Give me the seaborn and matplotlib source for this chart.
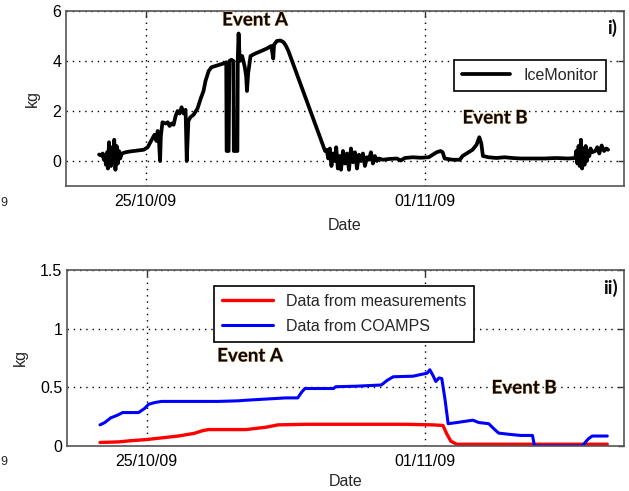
import numpy as np
import pandas as pd
import matplotlib
matplotlib.use("Agg")
import matplotlib.pyplot as plt
import matplotlib.dates as mdates
import matplotlib.patheffects as pe
import seaborn as sns

# ---------------- data (days since 23/10/2009 00:00) ----------------
start = pd.Timestamp("2009-10-23")

ice_days = [0.83, 0.88, 0.92, 0.95, 0.98, 1.0, 1.03, 1.05, 1.08, 1.1, 1.13, 1.16, 1.19, 1.21,
            1.24, 1.27, 1.3, 1.33, 1.36, 1.4, 1.5, 1.6, 1.7, 1.8, 1.95, 2.05, 2.15, 2.22, 2.27,
            2.3, 2.33, 2.36, 2.38, 2.42, 2.5, 2.55, 2.6, 2.65, 2.7, 2.75, 2.8, 2.85, 2.9, 2.95,
            3.0, 3.03, 3.07, 3.12, 3.2, 3.3, 3.38, 3.45, 3.5, 3.58, 3.65, 3.75, 3.85, 3.95, 4.02,
            4.03, 4.08, 4.1, 4.15, 4.2, 4.21, 4.3, 4.31, 4.33, 4.36, 4.42, 4.48, 4.52, 4.54, 4.57,
            4.63, 4.75, 4.9, 5.04, 5.15, 5.2, 5.22, 5.29, 5.38, 5.46, 5.52, 5.58, 6.5,
            6.54, 6.58, 6.62, 6.66, 6.7, 6.74, 6.78, 6.82, 6.86, 6.9, 6.95, 7.0, 7.05, 7.1, 7.15,
            7.2, 7.25, 7.3, 7.35, 7.4, 7.45, 7.5, 7.55, 7.6, 7.65, 7.7, 7.75, 7.8, 7.85, 7.95,
            8.1, 8.3, 8.4, 8.5, 8.7, 8.9, 9.1, 9.2, 9.3, 9.4, 9.45, 9.5, 9.7, 9.88, 9.95, 10.05,
            10.2, 10.3, 10.37, 10.42, 10.46, 10.6, 10.8, 11.0, 11.2, 11.4, 11.7, 12.0, 12.3, 12.6,
            12.78, 12.8, 12.83, 12.86, 12.89, 12.92, 12.95, 12.98, 13.01, 13.04, 13.07, 13.1,
            13.13, 13.16, 13.2, 13.28, 13.33, 13.38, 13.44, 13.5, 13.56, 13.6]
ice_kg = [0.26, 0.22, 0.30, 0.05, 0.25, -0.15, 0.35, -0.3, 0.75, 0.1, -0.2, 0.55, -0.05, 0.85,
          -0.35, 0.6, -0.1, 0.4, 0.1, 0.3, 0.35, 0.38, 0.4, 0.42, 0.45, 0.55, 0.85, 1.05, 0.8,
          1.2, 0.9, 0.0, 1.0, 1.55, 1.5, 1.55, 1.4, 1.5, 1.45, 1.8, 2.0, 1.9, 2.15, 1.9,
          2.05, 0.0, 1.6, 1.75, 1.85, 2.1, 2.5, 2.8, 3.2, 3.6, 3.75, 3.8, 3.85, 3.9, 3.95,
          0.4, 0.4, 4.0, 4.05, 4.0, 0.4, 0.4, 4.1, 5.1, 4.0, 4.2, 3.8, 3.4, 2.8, 3.5,
          4.2, 4.3, 4.4, 4.5, 4.6, 4.1, 4.65, 4.8, 4.82, 4.75, 4.6, 4.4, 0.4,
          0.45, 0.1, 0.5, -0.2, 0.3, 0.0, 0.55, -0.3, 0.2, -0.35, 0.4, -0.1, 0.3, -0.35, 0.5,
          -0.05, 0.35, -0.3, 0.25, 0.0, 0.3, -0.2, 0.15, 0.05, 0.35, -0.1, 0.2, 0.0, 0.1, 0.05,
          0.08, 0.1, 0.02, 0.12, 0.15, 0.13, 0.15, 0.25, 0.35, 0.4, 0.35, 0.1, 0.05, 0.05, 0.2, 0.3,
          0.45, 0.65, 0.95, 0.7, 0.2, 0.15, 0.12, 0.15, 0.12, 0.1, 0.1, 0.1, 0.12, 0.1,
          0.12, 0.4, -0.1, 0.6, -0.2, 0.85, -0.3, 0.5, -0.15, 0.6, 0.0, 0.4,
          0.2, 0.5, 0.35, 0.4, 0.55, 0.3, 0.62, 0.4, 0.5, 0.45]

coamps_days = [0.83, 0.95, 1.1, 1.25, 1.4, 1.8, 1.95, 2.05, 2.2, 2.375, 3.5, 3.8, 4.3, 4.5, 5.0,
               5.5, 5.8, 5.9, 5.98, 6.7, 6.75, 7.3, 7.9, 8.05, 8.2, 8.7, 8.9, 9.05, 9.12, 9.2,
               9.27, 9.35, 9.42, 9.5, 9.58, 9.8, 10.0, 10.2, 10.35, 10.6, 10.75, 10.85, 11.1,
               11.4, 11.7, 11.75, 12.95, 13.1, 13.2, 13.58]
coamps_kg = [0.18, 0.2, 0.24, 0.26, 0.285, 0.285, 0.32, 0.355, 0.37, 0.38, 0.38, 0.38, 0.385,
             0.39, 0.40, 0.41, 0.41, 0.46, 0.49, 0.49, 0.505, 0.51, 0.52, 0.56, 0.59, 0.595,
             0.61, 0.62, 0.65, 0.6, 0.55, 0.58, 0.575, 0.4, 0.19, 0.2, 0.21, 0.22, 0.2, 0.19,
             0.14, 0.11, 0.10, 0.09, 0.09, 0.0, 0.0, 0.06, 0.085, 0.085]

meas_days = [0.83, 1.3, 1.6, 2.0, 2.4, 2.8, 3.2, 3.4, 3.55, 4.5, 5.0, 5.3, 6.0, 7.0, 8.5, 9.2,
             9.45, 9.55, 9.65, 9.8, 13.58]
meas_kg = [0.03, 0.035, 0.045, 0.055, 0.07, 0.085, 0.108, 0.13, 0.14, 0.14, 0.16, 0.18, 0.185,
           0.185, 0.185, 0.18, 0.175, 0.1, 0.04, 0.015, 0.015]

tick_dates = ["2009-10-25", "2009-11-01"]
top_yticks = [0, 2, 4, 6]
bot_yticks = [0, 0.5, 1, 1.5]
bot_yticklabels = ["0", "0.5", "1", "1.5"]


def to_dates(days):
    return start + pd.to_timedelta(np.asarray(days), unit="D")


# ---------------- style ----------------
sns.set_style("white")
plt.rcParams["font.family"] = ["Liberation Sans", "DejaVu Sans"]
plt.rcParams["font.size"] = 11.5

fig = plt.figure(figsize=(6.29, 4.91), dpi=100)
ax1 = fig.add_axes([66 / 629, 1 - 186 / 491, (624 - 66) / 629, (186 - 11) / 491])
ax2 = fig.add_axes([67 / 629, 1 - 446 / 491, (624 - 67) / 629, (446 - 270) / 491])

sns.lineplot(x=to_dates(ice_days), y=ice_kg, ax=ax1, color="black", lw=2.7,
             estimator=None, sort=False, label="IceMonitor")
sns.lineplot(x=to_dates(meas_days), y=meas_kg, ax=ax2, color="#ff0000", lw=2.4,
             estimator=None, sort=False, label="Data from measurements")
sns.lineplot(x=to_dates(coamps_days), y=coamps_kg, ax=ax2, color="#0000ff", lw=2.2,
             estimator=None, sort=False, label="Data from COAMPS")

xlim = (start, start + pd.Timedelta(days=14))
event_font = dict(family=["Lato", "DejaVu Sans"], fontweight="bold", fontsize=13.5,
                  color="#0a0a0a")
glow = [pe.withStroke(linewidth=0.7, foreground="#e9b47a")]

for ax in (ax1, ax2):
    ax.set_xlim(*xlim)
    ax.set_xticks(pd.to_datetime(tick_dates))
    ax.xaxis.set_major_formatter(mdates.DateFormatter("%d/%m/%y"))
    ax.grid(True, color="black", linestyle=(0, (1, 3.5)), lw=1)
    ax.tick_params(direction="in", length=4, width=1, top=True, right=True,
                   colors="#333333", labelcolor="black", labelsize=11.5)
    ax.tick_params(axis="x", pad=6)
    for s in ax.spines.values():
        s.set_color("#555555")
        s.set_linewidth(1.2)
    ax.set_ylabel("kg", fontsize=11.5, labelpad=9)

ax1.set_xlabel("Date", fontsize=11.5, labelpad=6)
ax2.set_xlabel("Date", fontsize=11.5, labelpad=3)

ax1.set_ylim(-1, 6)
ax1.set_yticks(top_yticks)
ax2.set_ylim(0, 1.5)
ax2.set_yticks(bot_yticks)
ax2.set_yticklabels(bot_yticklabels)

leg1 = ax1.legend(loc="upper right", bbox_to_anchor=(606 / 629, 1 - 60 / 491),
                  bbox_transform=fig.transFigure, fancybox=False, edgecolor="black",
                  framealpha=1, handlelength=3.0, borderpad=0.5, fontsize=11.5,
                  borderaxespad=0)
leg1.get_frame().set_linewidth(1.2)
leg2 = ax2.legend(loc="upper left", bbox_to_anchor=(214 / 629, 1 - 286 / 491),
                  bbox_transform=fig.transFigure, fancybox=False, edgecolor="black",
                  framealpha=1, handlelength=3.2, borderpad=0.5, labelspacing=0.6,
                  fontsize=11.5, borderaxespad=0)
leg2.get_frame().set_linewidth(1.2)

# annotations
fig.text(255 / 629, 1 - 20 / 491, "Event A", ha="center", va="center",
         path_effects=glow, **event_font)
fig.text(495 / 629, 1 - 118 / 491, "Event B", ha="center", va="center",
         path_effects=glow, **event_font)
fig.text(250 / 629, 1 - 356 / 491, "Event A", ha="center", va="center",
         path_effects=glow, **event_font)
fig.text(524 / 629, 1 - 388 / 491, "Event B", ha="center", va="center",
         path_effects=glow, **event_font)
fig.text(617 / 629, 1 - 28 / 491, "i)", ha="right", va="center", **event_font)
fig.text(618 / 629, 1 - 288 / 491, "ii)", ha="right", va="center", **event_font)

# glyphs at the left edge of the source image
fig.text(0.5 / 629, 1 - 203 / 491, "9", ha="left", va="center", fontsize=9)
fig.text(0.5 / 629, 1 - 462 / 491, "9", ha="left", va="center", fontsize=9)

fig.savefig("out.png", dpi=100)
